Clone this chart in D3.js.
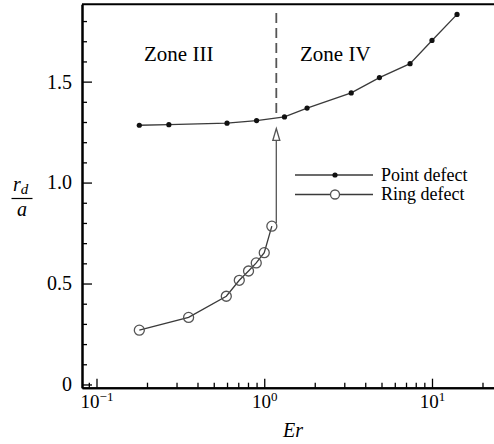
<!DOCTYPE html>
<html>
<head>
<meta charset="utf-8">
<script src="https://cdn.jsdelivr.net/npm/d3@7"></script>
<style>
  body { margin: 0; background: #fff; }
  svg { display: block; }
  svg text { font-family: "Liberation Serif", "DejaVu Serif", "Times New Roman", serif; }
</style>
</head>
<body>
<div id="chart"></div>
<script>
// values
var pointEr = [0.18, 0.27, 0.60, 0.90, 1.32, 1.80, 3.30, 4.86, 7.40, 10.0, 14.1];
var pointR = [1.284, 1.287, 1.294, 1.307, 1.325, 1.369, 1.444, 1.520, 1.589, 1.704, 1.833];
var ringEr = [0.18, 0.354, 0.594, 0.71, 0.806, 0.896, 1.0, 1.11];
var ringR = [0.269, 0.332, 0.437, 0.516, 0.562, 0.602, 0.653, 0.784];
var yTicks = [0, 0.5, 1.0, 1.5];
var yTickLabels = ["0", "0.5", "1.0", "1.5"];
var xDecades = [-1, 0, 1];
var transitionEr = 1.18;
var seriesNames = ["Point defect", "Ring defect"];
var zoneNames = ["Zone III", "Zone IV"];

var width = 494, height = 444;
var serif = "Liberation Serif, DejaVu Serif, serif";

var svg = d3.select("#chart").append("svg")
    .attr("width", width)
    .attr("height", height);

var x = d3.scaleLog()
    .domain([Math.pow(10, -1.0864), Math.pow(10, 1.3696)])
    .range([82, 494]);

var y = d3.scaleLinear()
    .domain([-0.016, 1.883])
    .range([387.7, 4.3]);

// minor ticks
var xMinor = [];
for (var e = -2; e <= 1; e++) {
    for (var k = 2; k <= 9; k++) {
        var v = k * Math.pow(10, e);
        if (v > x.domain()[0] && v < x.domain()[1]) xMinor.push(v);
    }
}
var yMinor = d3.range(0, 19).map(function(i) { return i / 10; })
    .filter(function(v) { return yTicks.indexOf(v) < 0 && v < y.domain()[1]; });

function styleAxis(g) {
    g.attr("font-family", null);
    g.select(".domain").attr("stroke", "#000").attr("stroke-width", 2);
    g.selectAll(".tick line").attr("stroke", "#000").attr("stroke-width", 1.3);
    g.selectAll("text").style("font-family", serif).attr("fill", "#000");
}

// x axis
svg.append("g")
    .attr("transform", "translate(0," + y.range()[0] + ")")
    .call(d3.axisBottom(x).tickValues(xMinor).tickSizeInner(-5).tickSizeOuter(0).tickFormat(""))
    .call(styleAxis);

var xAxis = svg.append("g")
    .attr("transform", "translate(0," + y.range()[0] + ")")
    .call(d3.axisBottom(x).tickValues(xDecades.map(function(d) { return Math.pow(10, d); }))
        .tickSizeInner(-9).tickSizeOuter(0).tickFormat(""))
    .call(styleAxis);

xAxis.selectAll(".tick").append("text")
    .attr("y", 20)
    .attr("x", 0)
    .style("font-family", serif)
    .attr("font-size", 19)
    .attr("text-anchor", "middle")
    .attr("fill", "#000")
    .each(function(d) {
        var t = d3.select(this);
        var p = Math.round(Math.log10(d));
        t.append("tspan").text("10");
        t.append("tspan").attr("dy", -7).attr("font-size", 13)
            .text(p < 0 ? "\u2212" + (-p) : String(p));
    });

// y axis
svg.append("g")
    .attr("transform", "translate(" + x.range()[0] + ",0)")
    .call(d3.axisLeft(y).tickValues(yMinor).tickSizeInner(-5).tickSizeOuter(0).tickFormat(""))
    .call(styleAxis);

svg.append("g")
    .attr("transform", "translate(" + x.range()[0] + ",0)")
    .call(d3.axisLeft(y).tickValues(yTicks).tickSizeInner(-10).tickSizeOuter(0).tickPadding(10)
        .tickFormat(function(d, i) { return yTickLabels[i]; }))
    .call(styleAxis)
    .selectAll("text").attr("font-size", 20);

// top frame line
svg.append("line")
    .attr("x1", x.range()[0]).attr("x2", x.range()[1])
    .attr("y1", y.range()[1]).attr("y2", y.range()[1])
    .attr("stroke", "#000").attr("stroke-width", 2);

// zone divider
svg.append("line")
    .attr("x1", x(transitionEr)).attr("x2", x(transitionEr))
    .attr("y1", y(1.84)).attr("y2", y(1.344))
    .attr("stroke", "#555").attr("stroke-width", 1.8)
    .attr("stroke-dasharray", "10,5");

// arrow from ring to point branch
svg.append("line")
    .attr("x1", x(transitionEr)).attr("x2", x(transitionEr))
    .attr("y1", y(0.80)).attr("y2", y(1.21))
    .attr("stroke", "#555").attr("stroke-width", 1.3);

var ax = x(transitionEr), ay = y(1.268);
svg.append("path")
    .attr("d", "M" + ax + "," + ay + "L" + (ax + 3.5) + "," + (ay + 12) + "L" + (ax - 3.5) + "," + (ay + 12) + "Z")
    .attr("fill", "#fff").attr("stroke", "#555").attr("stroke-width", 1.3);

// series
var line = d3.line()
    .x(function(d) { return x(d[0]); })
    .y(function(d) { return y(d[1]); });

var pointData = d3.zip(pointEr, pointR);
var ringData = d3.zip(ringEr, ringR);

svg.append("path")
    .datum(pointData)
    .attr("d", line)
    .attr("fill", "none")
    .attr("stroke", "#3a3a3a")
    .attr("stroke-width", 1.3);

svg.selectAll("circle.pt")
    .data(pointData)
    .enter().append("circle")
    .attr("class", "pt")
    .attr("cx", function(d) { return x(d[0]); })
    .attr("cy", function(d) { return y(d[1]); })
    .attr("r", 2.6)
    .attr("fill", "#111");

svg.append("path")
    .datum(ringData)
    .attr("d", line)
    .attr("fill", "none")
    .attr("stroke", "#3a3a3a")
    .attr("stroke-width", 1.3);

svg.selectAll("circle.ring")
    .data(ringData)
    .enter().append("circle")
    .attr("class", "ring")
    .attr("cx", function(d) { return x(d[0]); })
    .attr("cy", function(d) { return y(d[1]); })
    .attr("r", 5)
    .attr("fill", "none")
    .attr("stroke", "#555")
    .attr("stroke-width", 1.3);

// zone labels
svg.selectAll("text.zone")
    .data(zoneNames)
    .enter().append("text")
    .attr("class", "zone")
    .attr("x", function(d, i) { return i === 0 ? 144 : 300; })
    .attr("y", 61)
    .style("font-family", serif)
    .attr("font-size", 21)
    .attr("fill", "#000")
    .text(function(d) { return d; });

// legend
var legend = svg.append("g").attr("transform", "translate(295,175)");
var items = legend.selectAll("g")
    .data(seriesNames)
    .enter().append("g")
    .attr("transform", function(d, i) { return "translate(0," + i * 19.5 + ")"; });

items.append("line")
    .attr("x1", 0).attr("x2", 78)
    .attr("stroke", "#3a3a3a").attr("stroke-width", 1.3);

items.filter(function(d, i) { return i === 0; }).append("circle")
    .attr("cx", 40).attr("r", 2.6).attr("fill", "#111");
items.filter(function(d, i) { return i === 1; }).append("circle")
    .attr("cx", 40).attr("r", 4.5).attr("fill", "#fff")
    .attr("stroke", "#555").attr("stroke-width", 1.3);

items.append("text")
    .attr("x", 86).attr("y", 5.5)
    .style("font-family", serif)
    .attr("font-size", 18)
    .attr("fill", "#000")
    .text(function(d) { return d; });

// axis titles
svg.append("text")
    .attr("x", 293).attr("y", 437)
    .attr("text-anchor", "middle")
    .style("font-family", serif)
    .attr("font-style", "italic")
    .attr("font-size", 20)
    .attr("fill", "#000")
    .text("Er");

var yl = svg.append("g").attr("transform", "translate(22,0)");
var rd = yl.append("text")
    .attr("x", -9).attr("y", 191)
    .style("font-family", serif)
    .attr("font-style", "italic")
    .attr("font-size", 20)
    .attr("fill", "#000");
rd.append("tspan").text("r");
rd.append("tspan").attr("dy", 3).attr("font-size", 15).text("d");
yl.append("line")
    .attr("x1", -10.5).attr("x2", 10.5)
    .attr("y1", 198.5).attr("y2", 198.5)
    .attr("stroke", "#000").attr("stroke-width", 1.2);
yl.append("text")
    .attr("x", 0).attr("y", 216)
    .attr("text-anchor", "middle")
    .style("font-family", serif)
    .attr("font-style", "italic")
    .attr("font-size", 20)
    .attr("fill", "#000")
    .text("a");
</script>
</body>
</html>
